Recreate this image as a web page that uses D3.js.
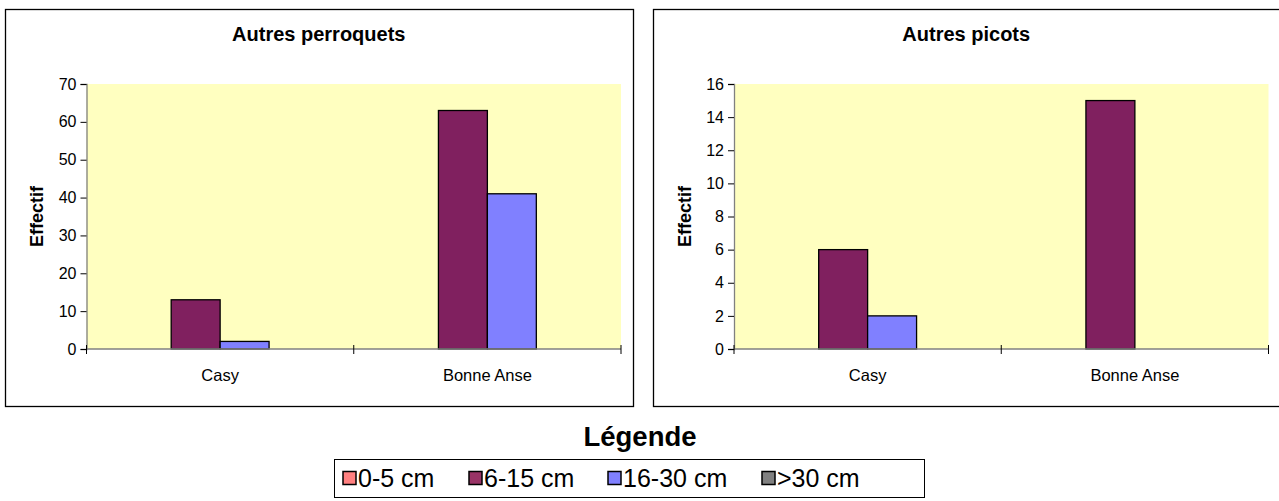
<!DOCTYPE html>
<html>
<head>
<meta charset="utf-8">
<script src="https://cdn.jsdelivr.net/npm/d3@7"></script>
<style>
  html, body { margin: 0; padding: 0; background: #fff; }
  svg { display: block; font-family: Arial, "Liberation Sans", sans-serif; }
</style>
</head>
<body>
<svg id="chart" width="1279" height="501"></svg>
<script>
const categories = ["Casy", "Bonne Anse"];
const seriesNames = ["0-5 cm", "6-15 cm", "16-30 cm", ">30 cm"];
const barColors = ["#FF8080", "#80205F", "#8080FF", "#808080"];
const legendColors = ["#FF8080", "#993366", "#8080FF", "#808080"];

const perroquetsTitle = "Autres perroquets";
const perroquetsValues = [
  [0, 13, 2, 0],   // Casy
  [0, 63, 41, 0]   // Bonne Anse
];
const perroquetsTicks = [0, 10, 20, 30, 40, 50, 60, 70];

const picotsTitle = "Autres picots";
const picotsValues = [
  [0, 6, 2, 0],
  [0, 15, 0, 0]
];
const picotsTicks = [0, 2, 4, 6, 8, 10, 12, 14, 16];

const yTitle = "Effectif";
const legendTitle = "Légende";

const svg = d3.select("#chart");

function panel(box, plot, title, values, ticks) {
  const g = svg.append("g");
  g.append("rect")
    .attr("x", box.x).attr("y", box.y).attr("width", box.w).attr("height", box.h)
    .attr("fill", "#fff").attr("stroke", "#000").attr("stroke-width", 1.3);

  const x0 = d3.scaleBand().domain(categories).range([plot.x0, plot.x1]).paddingInner(0).paddingOuter(0);
  const x1 = d3.scaleBand().domain(seriesNames).range([0, x0.bandwidth()]).paddingInner(0).paddingOuter(0.73);
  const y = d3.scaleLinear().domain([0, d3.max(ticks)]).range([plot.y0, plot.y1]);

  g.append("rect")
    .attr("x", plot.x0).attr("y", plot.y1)
    .attr("width", plot.x1 - plot.x0).attr("height", plot.y0 - plot.y1)
    .attr("fill", "#FFFFC0");

  categories.forEach((c, ci) => {
    seriesNames.forEach((s, si) => {
      const v = values[ci][si];
      if (v <= 0) return;
      g.append("rect")
        .attr("x", x0(c) + x1(s))
        .attr("y", y(v))
        .attr("width", x1.bandwidth())
        .attr("height", y(0) - y(v))
        .attr("fill", barColors[si])
        .attr("stroke", "#000").attr("stroke-width", 1.3);
    });
  });

  const yAxis = d3.axisLeft(y).tickValues(ticks).tickSize(6).tickPadding(4).tickFormat(d3.format("d"));
  const ya = g.append("g").attr("transform", `translate(${plot.x0},0)`).call(yAxis);
  ya.select(".domain").attr("stroke", "#808080").attr("stroke-width", 1.3);
  ya.selectAll(".tick line").attr("stroke", "#000");
  ya.selectAll(".tick text").attr("font-size", 16).attr("fill", "#000")
    .attr("font-family", "Arial, 'Liberation Sans', sans-serif");

  const xa = g.append("g").attr("transform", `translate(0,${plot.y0})`);
  xa.append("line").attr("x1", plot.x0).attr("x2", plot.x1).attr("y1", 0).attr("y2", 0)
    .attr("stroke", "#808080").attr("stroke-width", 1.3);
  const bounds = categories.map(c => x0(c)).concat([plot.x1]);
  xa.selectAll("line.tk").data(bounds).join("line").attr("class", "tk")
    .attr("x1", d => d).attr("x2", d => d).attr("y1", -4).attr("y2", 5)
    .attr("stroke", "#000");
  xa.selectAll("text").data(categories).join("text")
    .attr("x", d => x0(d) + x0.bandwidth() / 2).attr("y", 32)
    .attr("text-anchor", "middle").attr("font-size", 16.5).text(d => d);

  g.append("text")
    .attr("x", (plot.x0 + plot.x1) / 2 - 35)
    .attr("y", 41).attr("text-anchor", "middle")
    .attr("font-size", 20).attr("font-weight", "bold").text(title);

  g.append("text")
    .attr("transform", `translate(${box.x + 31},${(plot.y0 + plot.y1) / 2}) rotate(-90)`)
    .attr("dy", "0.35em")
    .attr("text-anchor", "middle").attr("font-size", 18).attr("font-weight", "bold")
    .text(yTitle);
}

panel({x: 5.5, y: 9.5, w: 628, h: 397}, {x0: 86.5, x1: 621, y0: 349, y1: 84},
      perroquetsTitle, perroquetsValues, perroquetsTicks);
panel({x: 653.5, y: 9.5, w: 640, h: 397}, {x0: 734, x1: 1268.5, y0: 349, y1: 84},
      picotsTitle, picotsValues, picotsTicks);

svg.append("text").attr("x", 640).attr("y", 446).attr("text-anchor", "middle")
  .attr("font-size", 27.5).attr("font-weight", "bold").text(legendTitle);
const lg = svg.append("g");
lg.append("rect").attr("x", 334.5).attr("y", 459.5).attr("width", 590).attr("height", 38)
  .attr("fill", "#fff").attr("stroke", "#000").attr("stroke-width", 1);
const itemX = [343, 469, 608, 762];
seriesNames.forEach((s, i) => {
  lg.append("rect").attr("x", itemX[i]).attr("y", 471.5).attr("width", 13).attr("height", 13)
    .attr("fill", legendColors[i]).attr("stroke", "#000").attr("stroke-width", 1.5);
  lg.append("text").attr("x", itemX[i] + 15).attr("y", 487).attr("font-size", 25).text(s);
});
</script>
</body>
</html>
